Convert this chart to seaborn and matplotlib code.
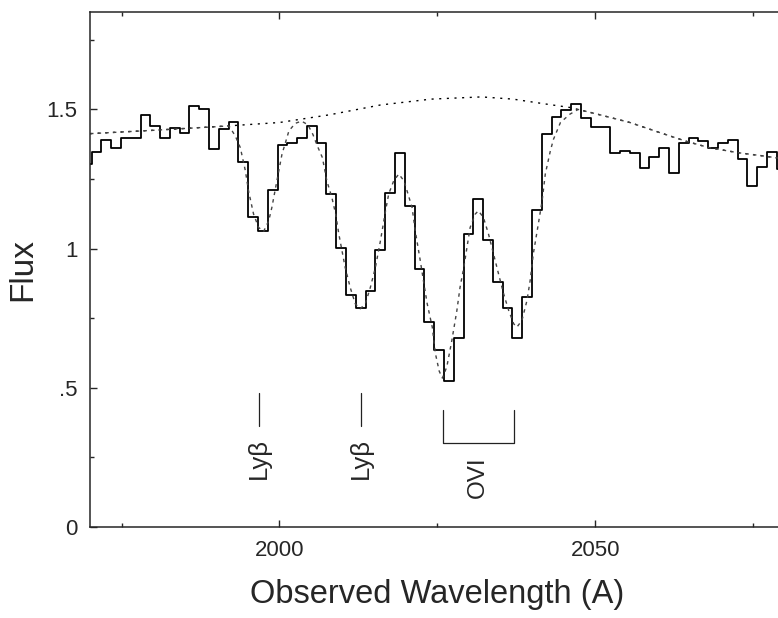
import numpy as np
import pandas as pd
import seaborn as sns
import matplotlib.pyplot as plt
from matplotlib.ticker import FixedLocator, FixedFormatter, MultipleLocator

# binned spectrum (first bin centre and bin width in A, then one flux per bin)
bin_start = 1969.475
bin_width = 1.55
flux = [1.304, 1.348, 1.390, 1.363, 1.397, 1.397, 1.480, 1.441, 1.399, 1.433,
        1.416, 1.513, 1.503, 1.357, 1.429, 1.455, 1.312, 1.112, 1.065, 1.211,
        1.373, 1.379, 1.399, 1.441, 1.381, 1.196, 1.002, 0.832, 0.787, 0.847,
        0.995, 1.200, 1.342, 1.152, 0.927, 0.738, 0.636, 0.524, 0.680, 1.053,
        1.180, 1.031, 0.879, 0.786, 0.679, 0.825, 1.138, 1.411, 1.473, 1.498,
        1.521, 1.471, 1.437, 1.437, 1.342, 1.349, 1.342, 1.289, 1.330, 1.360,
        1.273, 1.380, 1.399, 1.385, 1.360, 1.380, 1.391, 1.322, 1.226, 1.294,
        1.348, 1.286]

# continuum (dotted)
cont_wave = [1970, 1980, 1992, 2000, 2008, 2016, 2024, 2032, 2037, 2042,
             2046, 2050, 2055.5, 2061, 2064.5, 2068, 2072.5, 2076.6, 2080]
cont_flux = [1.413, 1.425, 1.441, 1.453, 1.481, 1.516, 1.537, 1.545, 1.537, 1.520,
             1.507, 1.485, 1.453, 1.411, 1.385, 1.363, 1.345, 1.333, 1.322]

# absorption model (dashed)
fit_wave = [1970, 1980, 1990, 1992, 1993, 1993.8, 1994.6, 1995.1, 1995.9, 1996.7,
            1997.5, 1998.3, 1998.8, 1999.6, 2000.4, 2001.5, 2002.5, 2003.5, 2004.5, 2005.3,
            2006.0, 2006.8, 2007.5, 2008.3, 2008.9, 2009.4, 2009.9, 2010.4, 2011.2, 2012.0,
            2012.8, 2013.6, 2014.4, 2015.2, 2016.0, 2016.8, 2017.3, 2018.1, 2018.9, 2019.7,
            2020.2, 2021.0, 2021.5, 2022.3, 2022.8, 2023.4, 2024.2, 2024.7, 2025.3, 2025.8,
            2026.5, 2027.3, 2028.1, 2028.6, 2029.2, 2029.7, 2030.2, 2031.0, 2031.5, 2032.3,
            2033.1, 2033.9, 2034.7, 2035.5, 2036.3, 2037.1, 2037.6, 2038.4, 2039.2, 2039.7,
            2040.2, 2041.0, 2041.6, 2042.1, 2042.9, 2043.4, 2044.5, 2046.0, 2047.3, 2050,
            2055.5, 2061, 2064.5, 2068, 2072.5, 2076.6, 2080]
fit_flux = [1.413, 1.425, 1.438, 1.441, 1.405, 1.363, 1.280, 1.208, 1.124, 1.076,
            1.062, 1.100, 1.148, 1.244, 1.339, 1.423, 1.450, 1.458, 1.445, 1.410,
            1.369, 1.327, 1.244, 1.184, 1.124, 1.053, 0.993, 0.933, 0.861, 0.802,
            0.784, 0.802, 0.861, 0.933, 1.029, 1.136, 1.196, 1.244, 1.268, 1.244,
            1.208, 1.148, 1.065, 0.957, 0.885, 0.802, 0.718, 0.623, 0.560, 0.535,
            0.575, 0.670, 0.778, 0.861, 0.933, 1.005, 1.076, 1.124, 1.136, 1.112,
            1.053, 0.981, 0.909, 0.838, 0.778, 0.730, 0.718, 0.742, 0.814, 0.885,
            0.981, 1.089, 1.172, 1.268, 1.351, 1.393, 1.453, 1.483, 1.500, 1.485,
            1.453, 1.411, 1.385, 1.363, 1.345, 1.333, 1.322]

# line identifications
lyb_wave = [1996.8, 2012.9]
ovi_wave = [2025.9, 2037.1]

x_ticks = [2000, 2050]
x_labels = ['2000', '2050']
y_ticks = [0, 0.5, 1, 1.5]
y_labels = ['0', '.5', '1', '1.5']

spec = pd.DataFrame({'wave': bin_start + bin_width * np.arange(len(flux)), 'flux': flux})

sns.set_style('ticks')
plt.rcParams['font.family'] = ['Liberation Sans', 'DejaVu Sans']

fig = plt.figure(figsize=(7.78, 6.18), dpi=100)
ax = fig.add_axes([0.1157, 0.1472, 0.8928, 0.8334])

sns.lineplot(data=spec, x='wave', y='flux', drawstyle='steps-mid', color='black',
             lw=1.3, estimator=None, sort=False, ax=ax)
sns.lineplot(x=cont_wave, y=cont_flux, color='black', lw=1.0,
             linestyle=(0, (1.5, 4)), estimator=None, sort=False, ax=ax)
sns.lineplot(x=fit_wave, y=fit_flux, color='#444444', lw=1.0,
             linestyle=(0, (2.5, 3)), estimator=None, sort=False, ax=ax)

# annotations
for w in lyb_wave:
    ax.plot([w, w], [0.362, 0.481], color='#222222', lw=0.9)
    ax.text(w, 0.32, 'Lyβ', rotation=90, ha='center', va='top', fontsize=18.5)
ax.plot([ovi_wave[0], ovi_wave[0], ovi_wave[1], ovi_wave[1]],
        [0.422, 0.302, 0.302, 0.422], color='#222222', lw=0.9)
ax.text(np.mean(ovi_wave), 0.255, 'OVI', rotation=90, ha='center', va='top', fontsize=17.5)

ax.set_xlim(1970, 2080)
ax.set_ylim(0, 1.85)
ax.xaxis.set_major_locator(FixedLocator(x_ticks))
ax.xaxis.set_major_formatter(FixedFormatter(x_labels))
ax.xaxis.set_minor_locator(MultipleLocator(25))
ax.yaxis.set_major_locator(FixedLocator(y_ticks))
ax.yaxis.set_major_formatter(FixedFormatter(y_labels))
ax.yaxis.set_minor_locator(MultipleLocator(0.25))
ax.tick_params(which='both', direction='in', top=True, right=True, width=1,
               labelsize=16, pad=9)
ax.tick_params(which='major', length=5)
ax.tick_params(which='minor', length=3)
for s in ax.spines.values():
    s.set_linewidth(1.1)

ax.set_xlabel('Observed Wavelength (A)', fontsize=23.5, labelpad=13)
ax.set_ylabel('Flux', fontsize=24, labelpad=6)

fig.savefig('out.png', dpi=100)
